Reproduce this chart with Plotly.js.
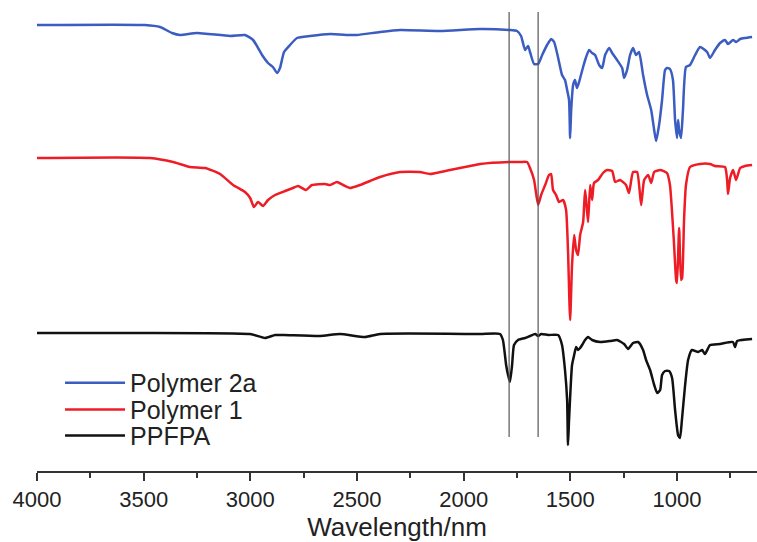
<!DOCTYPE html>
<html>
<head>
<meta charset="utf-8">
<script src="https://cdn.plot.ly/plotly-3.0.1.min.js"></script>
<style>html,body{margin:0;padding:0;background:#fff;}#chart{width:757px;height:542px;}</style>
</head>
<body>
<div id="chart"></div>
<script>
// Wavenumber positions (x) and offset signal readings (y, downward = absorption)
const wnPolymer2a = [4000,3494,3423,3367,3330,3250,3095,3025,2987,2945,2917,2894,2875,2861,2842,2814,2781,2720,2626,2533,2500,2392,2298,2111,1923,1787,1750,1731,1712,1698,1689,1670,1651,1632,1609,1590,1576,1557,1539,1525,1515,1506,1501,1496,1487,1478,1469,1459,1440,1426,1412,1398,1384,1365,1351,1337,1318,1304,1281,1257,1248,1234,1220,1206,1192,1178,1159,1140,1121,1107,1098,1084,1070,1056,1047,1033,1019,1009,1000,995,990,981,972,958,939,915,892,859,845,822,798,775,761,737,723,704,681,648];
const sigPolymer2a = [25,25,27,33,35,33,36,35,40,55,63,67,73,68,52,45,38,36,34,35,35,32,30,31,29,30,31,36,50,46,52,64,64,55,45,39,42,58,75,80,90,100,138,110,85,80,88,82,67,57,50,53,55,65,68,55,48,53,60,68,78,70,55,48,55,52,75,95,110,130,141,125,100,70,68,69,80,120,138,120,130,138,110,67,65,55,47,52,58,50,43,40,44,40,42,39,38,37];

const wnPolymer1 = [4000,3470,3362,3283,3212,3142,3081,3025,3001,2983,2964,2940,2917,2884,2837,2800,2776,2739,2711,2650,2626,2594,2565,2533,2486,2392,2298,2205,2158,2064,1970,1923,1787,1736,1703,1689,1670,1651,1637,1618,1600,1590,1581,1567,1553,1534,1520,1511,1501,1492,1482,1473,1464,1454,1440,1431,1426,1417,1407,1398,1389,1370,1347,1328,1304,1290,1267,1239,1225,1206,1187,1168,1154,1135,1121,1107,1079,1047,1033,1015,1004,1000,990,981,976,967,958,939,892,845,822,775,765,761,751,737,723,704,681,648];
const sigPolymer1 = [158,158,162,167,168,174,185,192,198,207,202,206,200,195,191,188,186,190,185,184,185,182,185,188,185,177,172,172,174,170,166,164,162,162,162,168,180,205,195,185,175,174,190,195,202,200,210,250,320,265,235,250,255,235,222,190,200,222,185,200,183,180,173,170,171,182,180,185,193,172,172,205,180,175,183,172,170,173,185,240,280,283,228,280,278,220,185,167,164,164,166,167,180,194,178,170,180,168,166,165];

const wnPPFPA = [4000,3812,3001,2931,2884,2842,2673,2580,2462,2392,1923,1830,1816,1801,1792,1783,1773,1764,1745,1712,1689,1665,1651,1637,1604,1557,1539,1525,1515,1511,1506,1492,1482,1473,1464,1454,1445,1431,1417,1398,1360,1313,1281,1248,1229,1206,1182,1159,1145,1126,1107,1093,1079,1070,1056,1037,1023,1009,995,986,977,962,948,930,901,882,869,845,798,738,728,718,648];
const sigPPFPA = [333,333,334,338,335,335,336,334,337,334,334,334,340,365,375,382,365,345,340,338,336,334,336,334,335,335,345,370,400,445,420,365,355,347,350,348,345,340,337,340,342,341,340,344,349,343,342,350,360,370,385,393,390,375,371,371,378,410,435,438,420,385,360,350,352,350,354,345,344,342,347,341,339];

const seriesNames = ["Polymer 2a", "Polymer 1", "PPFPA"];
const markerLines = [1787, 1651];
const markerSpan = [12, 437];
const tickVals = [4000,3500,3000,2500,2000,1500,1000];

const FONT = "Liberation Sans, Arial, Helvetica, sans-serif";
const colors = ["#3b5cc0", "#ee1c25", "#111111"];
const xs = [wnPolymer2a, wnPolymer1, wnPPFPA];
const ys = [sigPolymer2a, sigPolymer1, sigPPFPA];
const legendIds = ["legend", "legend2", "legend3"];
const legendY = [0.187, 0.130, 0.075];

const traces = seriesNames.map((n, i) => ({
  type: "scatter", mode: "lines", name: n,
  x: xs[i], y: ys[i],
  legend: legendIds[i],
  line: {color: colors[i], width: 2.5, shape: "spline", smoothing: 0.5},
  hoverinfo: "skip"
}));

const shapes = markerLines.map(v => ({
  type: "line", xref: "x", yref: "y",
  x0: v, x1: v, y0: markerSpan[0], y1: markerSpan[1],
  line: {color: "#555555", width: 1.2}
}));

const layout = {
  width: 757, height: 542,
  margin: {l: 37, r: 0, t: 0, b: 71, pad: 0},
  paper_bgcolor: "#ffffff", plot_bgcolor: "#ffffff",
  font: {family: FONT, color: "#222222"},
  showlegend: true,
  xaxis: {
    range: [4000, 625],
    tickvals: tickVals,
    ticktext: tickVals.map(String),
    ticks: "outside", ticklen: 8, tickwidth: 2, tickcolor: "#333333",
    minor: {dtick: 250, ticks: "outside", ticklen: 5, tickwidth: 2, tickcolor: "#333333"},
    showline: true, linecolor: "#333333", linewidth: 2,
    showgrid: false, zeroline: false,
    tickfont: {family: FONT, size: 22, color: "#222222"},
    title: {text: "Wavelength/nm", font: {family: FONT, size: 26, color: "#222222"}, standoff: 6}
  },
  yaxis: {
    range: [471, 0], visible: false, showgrid: false, zeroline: false, fixedrange: true
  },
  shapes: shapes
};
legendIds.forEach((id, i) => {
  layout[id] = {
    x: 0.032, y: legendY[i], xanchor: "left", yanchor: "middle",
    font: {family: FONT, size: 25, color: "#222222"},
    bgcolor: "rgba(0,0,0,0)", borderwidth: 0, itemwidth: 60
  };
});

Plotly.newPlot("chart", traces, layout, {staticPlot: true, displayModeBar: false});
</script>
</body>
</html>
